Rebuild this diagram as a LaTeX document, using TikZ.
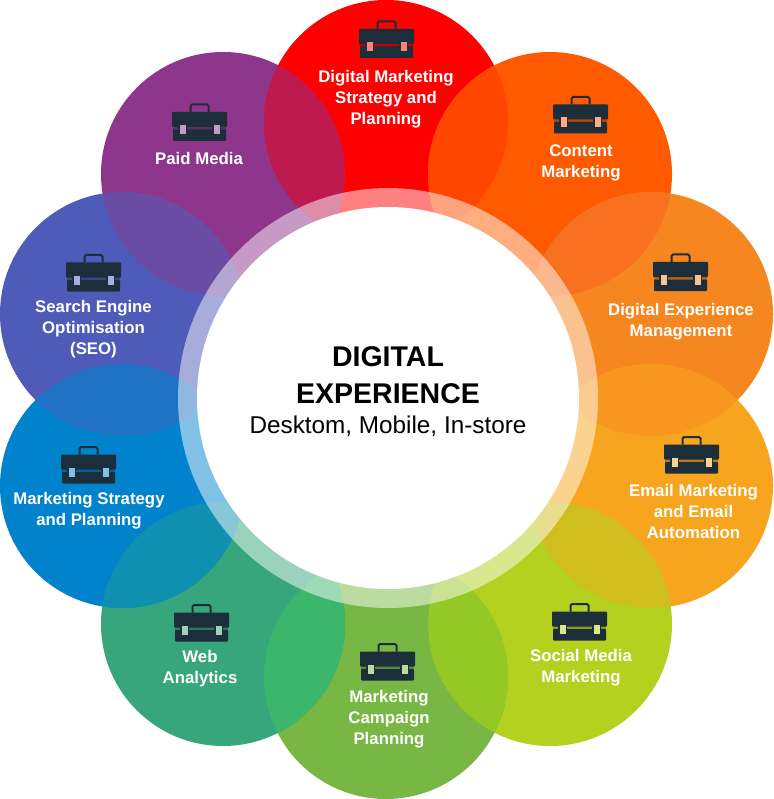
\documentclass[tikz,border=0pt]{standalone}
\usepackage{fontspec}
\setmainfont{Liberation Sans}
\definecolor{paid}{HTML}{8E358C}
\definecolor{plan}{HTML}{FF0000}
\definecolor{content}{HTML}{FF5A00}
\definecolor{exper}{HTML}{F6861F}
\definecolor{email}{HTML}{F7A51E}
\definecolor{social}{HTML}{B3D11E}
\definecolor{campaign}{HTML}{78B744}
\definecolor{web}{HTML}{37A67C}
\definecolor{strategy}{HTML}{0083CC}
\definecolor{search}{HTML}{4E5BB8}
\definecolor{casedark}{HTML}{1C2E3A}
\tikzset{
	label/.style={text=white,align=center,font=\fontsize{16.8}{21}\selectfont\bfseries},
	case/.pic={
		\fill[#1!75!black](-26.5,1)rectangle(26.5,5);
		\fill[casedark,rounded corners=.8pt](-27.5,-13)rectangle(27.5,2);
		\fill[casedark,rounded corners=.8pt](-26.5,4.5)rectangle(26.5,16);
		\draw[casedark,line width=2pt,rounded corners=1.5pt](-9,-13)--(-9,-20.5)--(9,-20.5)--(9,-13);
		\foreach \s in {-17,17}{
			\fill[casedark](\s-4.5,-1.5)rectangle(\s+4.5,11);
			\fill[#1!50!white](\s-3,0)rectangle(\s+3,9.5);
		}
	}
}
\begin{document}
\begin{tikzpicture}[x=1pt,y=-1pt]
	\useasboundingbox(0,0)rectangle(773,799);
	\foreach \nm/\x/\y in {paid/223/174,plan/386/122,content/550/174,exper/651/314,email/651/486,social/550/624,campaign/386/677,web/223/624,strategy/122/486,search/122/314}{
		\coordinate(\nm)at(\x,\y);
		\fill[\nm](\nm)circle(122pt);
	}
	% overlaps of neighbouring petals
	\foreach \a/\b/\ov in {paid/plan/BE1A4F,plan/content/FF4500,content/exper/F7711F,exper/email/F8971F,email/social/D0BE1E,social/campaign/93C825,campaign/web/3CB66B,web/strategy/1090B0,strategy/search/2072C4,search/paid/6A4CA4}{
		\begin{scope}
			\definecolor{overlap}{HTML}{\ov}
			\clip(\a)circle(122pt);
			\fill[overlap](\b)circle(122pt);
		\end{scope}
	}
	% centre
	\coordinate(mid)at(388,398);
	\fill[white,fill opacity=.5](mid)circle(210pt);
	\fill[white](mid)circle(191pt);
	% cases
	\path(386.5,42)pic{case=plan};
	\path(199.5,125)pic{case=paid};
	\path(580.5,117.5)pic{case=content};
	\path(680.5,275)pic{case=exper};
	\path(691.5,457.5)pic{case=email};
	\path(579.5,624.5)pic{case=social};
	\path(387.5,664.5)pic{case=campaign};
	\path(201.5,625.5)pic{case=web};
	\path(88.5,467.5)pic{case=strategy};
	\path(93.5,275.5)pic{case=search};
	% labels
	\node[label](lplan)at(386,99.5){Digital Marketing\\Strategy and\\Planning};
	\node[label](lpaid)at(199,158.5){Paid Media};
	\node[label](lcontent)at(581,163){Content\\Marketing};
	\node[label](lexper)at(681,322){Digital Experience\\Management};
	\node[label](lemail)at(693.5,511){Email Marketing\\and Email\\Automation};
	\node[label](lsocial)at(581,667.5){Social Media\\Marketing};
	\node[label](lcampaign)at(389,719){Marketing\\Campaign\\Planning};
	\node[label](lweb)at(200,669){Web\\Analytics};
	\node[label](lstrategy)at(89,510.5){Marketing Strategy\\and Planning};
	\node[label](lsearch)at(93.5,329){Search Engine\\Optimisation\\(SEO)};
	\node[font=\fontsize{28.5}{37}\selectfont\bfseries,align=center](title)at(388,375){DIGITAL\\EXPERIENCE};
	\node[font=\fontsize{24.3}{30}\selectfont](sub)at(388,426){Desktom, Mobile, In-store};
\end{tikzpicture}
\end{document}
